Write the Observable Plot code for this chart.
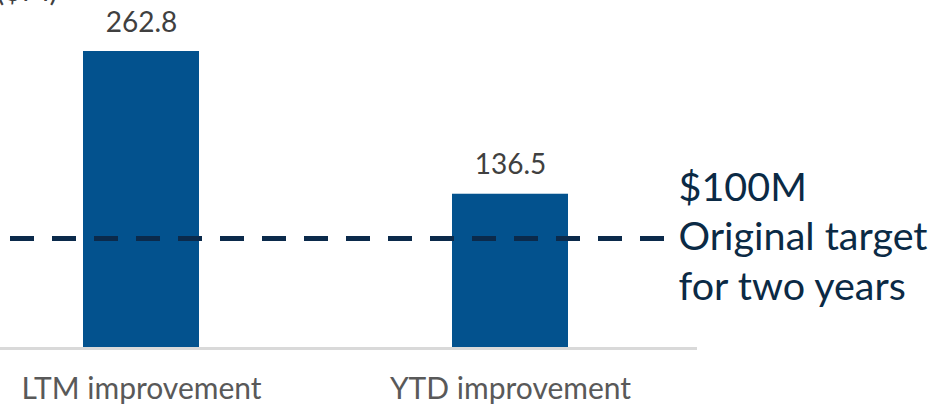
<!DOCTYPE html>
<html>
<head>
<meta charset="utf-8">
<script src="https://cdn.jsdelivr.net/npm/d3@7"></script>
<script src="https://cdn.jsdelivr.net/npm/@observablehq/plot@0.6"></script>
<style>
  html, body { margin: 0; padding: 0; background: #fff; }
  svg { display: block; }
</style>
</head>
<body>
<div id="chart"></div>
<script>
const categories = ["LTM improvement", "YTD improvement"];
const values = [262.8, 136.5];
const valueLabels = ["262.8", "136.5"];
const targetValue = 100;
const targetLabel = "$100M\nOriginal target\nfor two years";
const unitLabel = "($M)";

const data = categories.map((c, i) => ({category: c, value: values[i], label: valueLabels[i]}));

const chart = Plot.plot({
  width: 940,
  height: 405,
  marginTop: 51,
  marginBottom: 57,
  marginLeft: 10,
  marginRight: 275,
  style: {fontFamily: "Lato, 'Open Sans', sans-serif", background: "#fff"},
  x: {domain: categories, range: [83, 568.5], paddingInner: 0.686, paddingOuter: 0, axis: null},
  y: {domain: [0, d3.max(values)], axis: null},
  marks: [
    Plot.barY(data, {x: "category", y: "value", fill: "#03528E"}),
    Plot.ruleY([0], {stroke: "#d9d9d9", strokeWidth: 3, insetLeft: -10, insetRight: -32}),
    Plot.ruleY([targetValue], {stroke: "#0b2a4b", strokeWidth: 5, strokeDasharray: "24 18", dy: 3}),
    Plot.text(data, {x: "category", y: "value", text: "label", dy: -20, lineAnchor: "bottom", fontSize: 28, fill: "#404040"}),
    Plot.text(data, {x: "category", y: 0, text: "category", dy: 50, lineAnchor: "bottom", fontSize: 30, fill: "#595959"}),
    Plot.text([targetValue], {y: d => d, text: () => targetLabel, frameAnchor: "right", textAnchor: "start", lineAnchor: "middle", dx: 13, dy: -1, lineHeight: 1.26, fontSize: 39.5, fill: "#0b2a45"}),
    Plot.text([unitLabel], {text: d => d, frameAnchor: "top-left", textAnchor: "end", lineAnchor: "bottom", dx: 47, dy: -51, fontSize: 30, fill: "#404040"})
  ]
});
document.getElementById("chart").append(chart);
</script>
</body>
</html>
